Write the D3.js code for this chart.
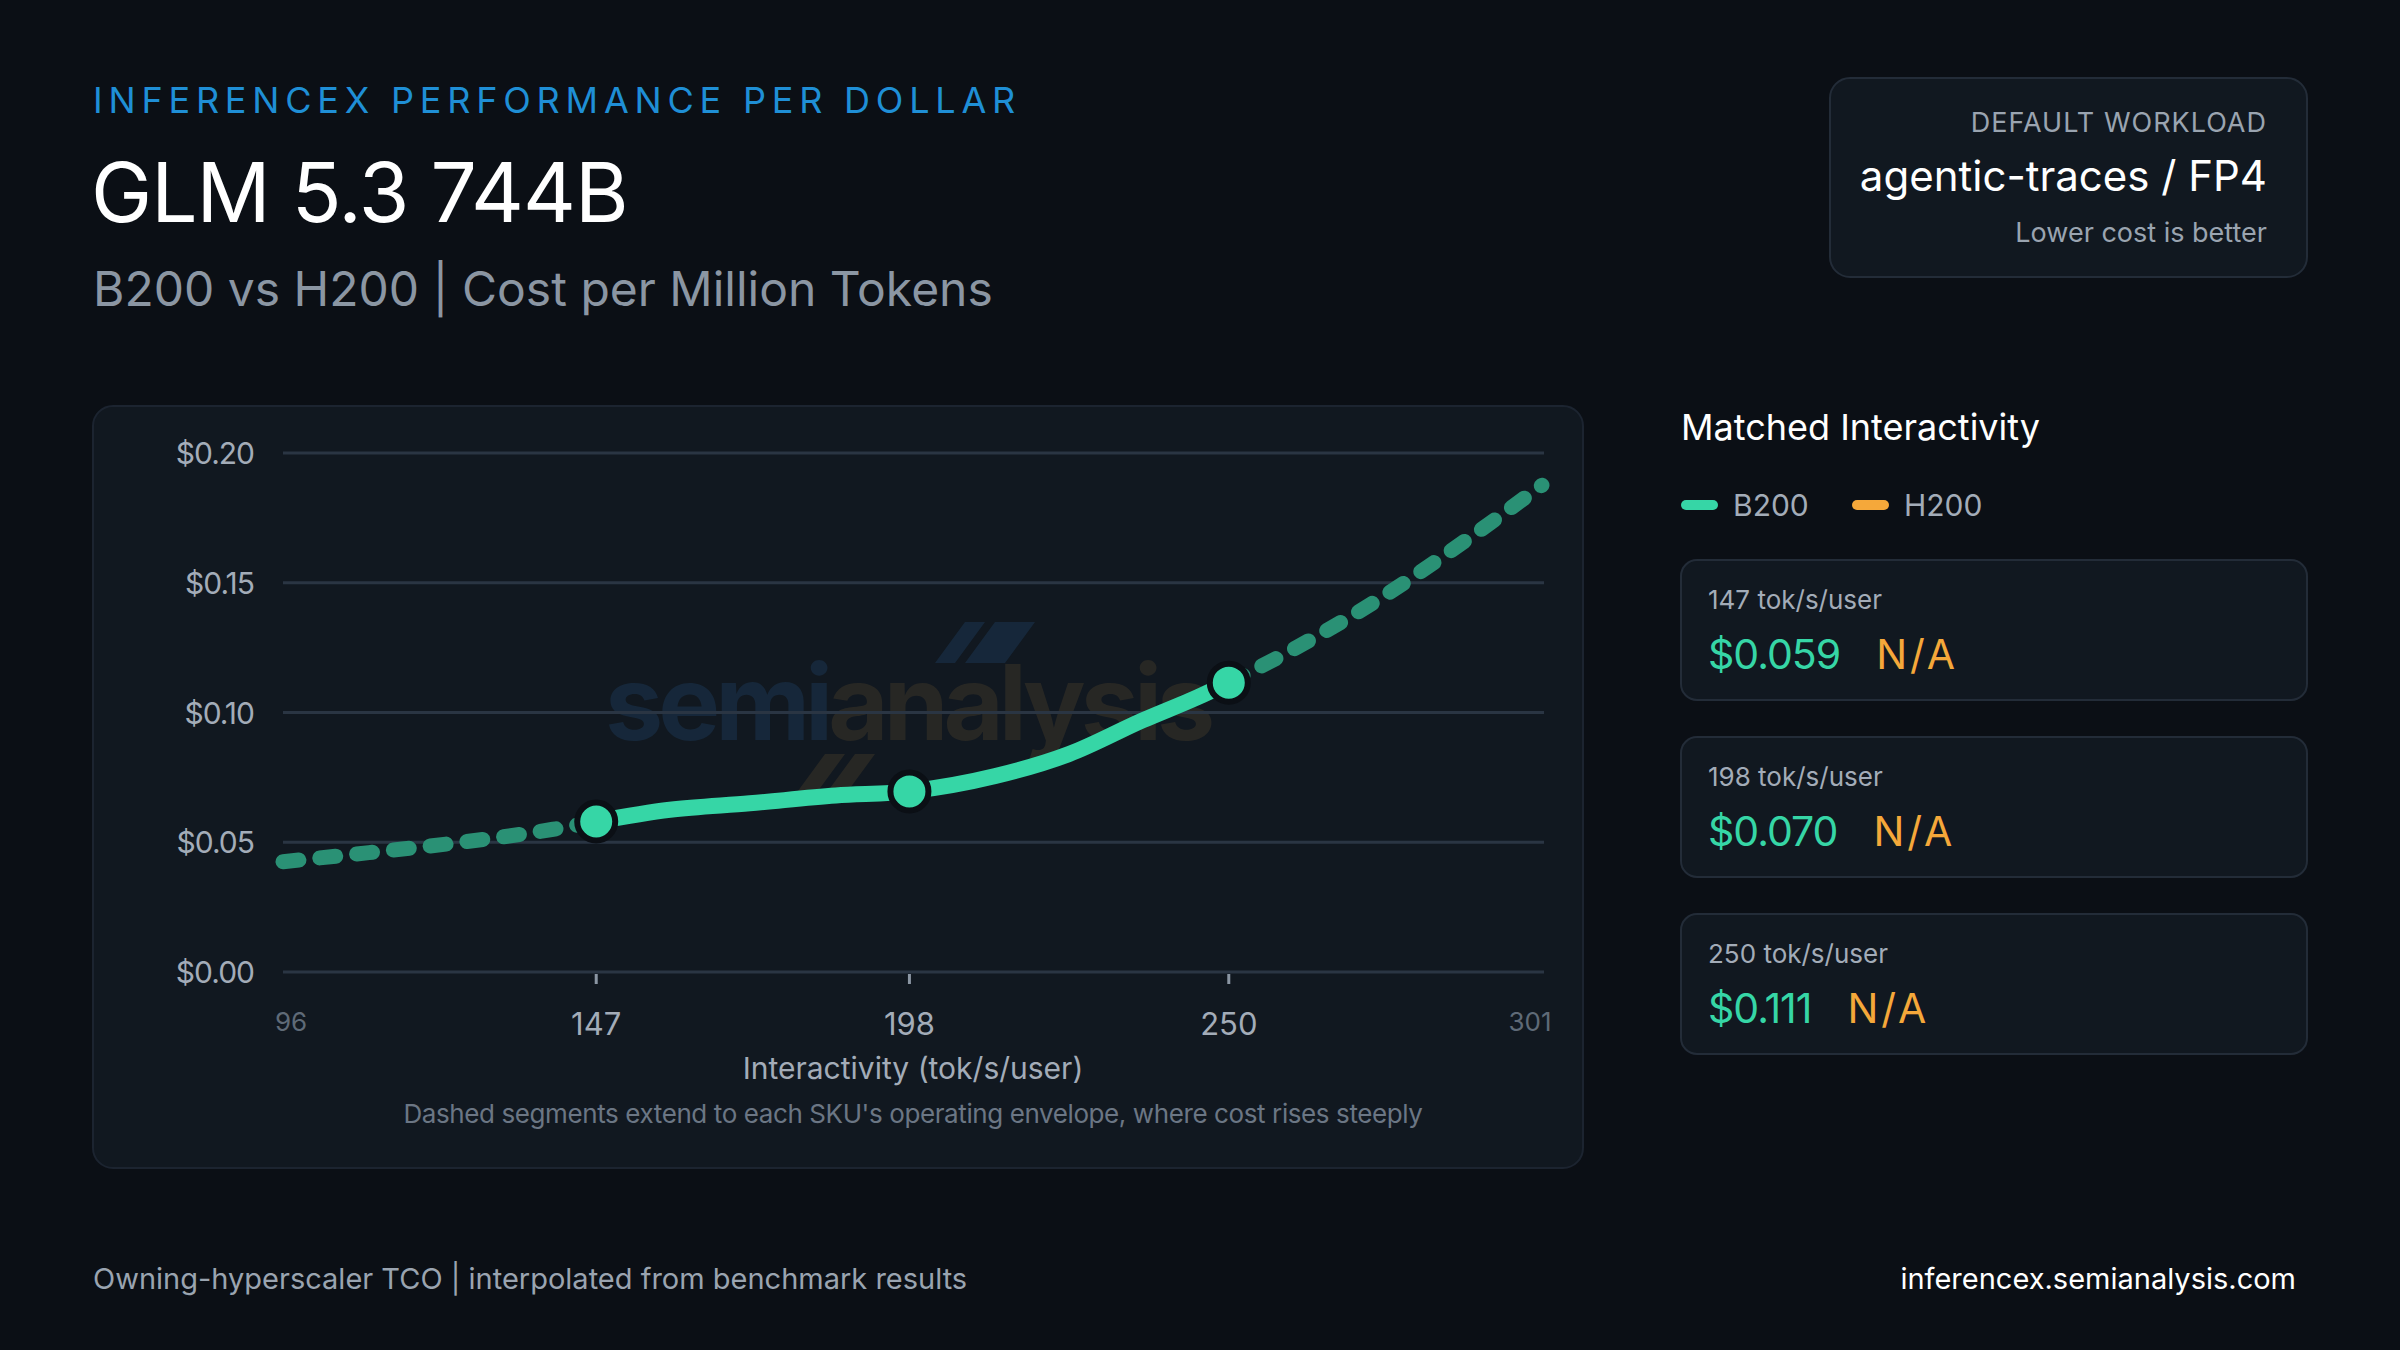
<!DOCTYPE html>
<html lang="en">
<head>
<meta charset="UTF-8">
<title>InferenceX</title>
<script src="https://d3js.org/d3.v7.min.js"></script>
<style>
  html, body { margin: 0; padding: 0; background: #0b0f15; }
  svg { display: block; font-family: Inter, "Noto Sans", sans-serif; }
</style>
</head>
<body>
<svg id="chart" width="2400" height="1350"></svg>
<script>
// data
const b200X = [96, 110, 125, 140, 147, 159, 172, 186, 198, 212, 224, 236, 245, 250, 261, 274, 289, 301];
const b200Cost = [0.0425, 0.046, 0.050, 0.055, 0.058, 0.0625, 0.065, 0.068, 0.0696, 0.0755, 0.084, 0.097, 0.106, 0.1115, 0.125, 0.143, 0.167, 0.1876];
const matchedX = [147, 198, 250];
const matchedB200 = ["$0.059", "$0.070", "$0.111"];
const matchedH200 = ["N/A", "N/A", "N/A"];
const yTicks = [0, 0.05, 0.10, 0.15, 0.20];
const xTickEdge = [96, 301];

const svg = d3.select("#chart");

// header
svg.append("text").attr("x", 93).attr("y", 113).attr("fill", "#1f8fd6")
  .attr("font-size", 36).attr("letter-spacing", 5.8).text("INFERENCEX PERFORMANCE PER DOLLAR");
svg.append("text").attr("x", 91).attr("y", 222).attr("fill", "#ffffff")
  .attr("font-size", 82).attr("font-weight", 400).attr("letter-spacing", -1).text("GLM 5.3 744B");
svg.append("text").attr("x", 93).attr("y", 306).attr("fill", "#8b96a3")
  .attr("font-size", 48).text("B200 vs H200 | Cost per Million Tokens");

// workload box
svg.append("rect").attr("x", 1830).attr("y", 78).attr("width", 477).attr("height", 199).attr("rx", 20)
  .attr("fill", "#111820").attr("stroke", "#232c38").attr("stroke-width", 2);
svg.append("text").attr("x", 2267).attr("y", 132).attr("text-anchor", "end").attr("fill", "#9aa4b0")
  .attr("font-size", 27).attr("letter-spacing", 1).text("DEFAULT  WORKLOAD");
svg.append("text").attr("x", 2267).attr("y", 191).attr("text-anchor", "end").attr("fill", "#ffffff")
  .attr("font-size", 42).text("agentic-traces  /  FP4");
svg.append("text").attr("x", 2267).attr("y", 242).attr("text-anchor", "end").attr("fill", "#9aa4b0")
  .attr("font-size", 27).text("Lower  cost is better");

// chart panel
svg.append("rect").attr("x", 93).attr("y", 406).attr("width", 1490).attr("height", 762).attr("rx", 20)
  .attr("fill", "#111820").attr("stroke", "#1c2430").attr("stroke-width", 2);

const x = d3.scaleLinear().domain([96, 301]).range([283, 1542]);
const y = d3.scaleLinear().domain([0, 0.20]).range([972, 453]);

// watermark
const wm = svg.append("g").attr("opacity", 0.55);
wm.append("text").attr("x", 605).attr("y", 740).attr("font-size", 104).attr("font-weight", 700)
  .attr("letter-spacing", -5)
  .selectAll("tspan").data([["semi", "#1b3550"], ["analysis", "#3a3428"]]).join("tspan")
  .attr("fill", d => d[1]).text(d => d[0]);
wm.append("path").attr("d", "M935,663 L965,622 L985,622 L955,663 Z M965,663 L995,622 L1035,622 L1005,663 Z").attr("fill", "#1b3550");
wm.append("path").attr("d", "M795,795 L825,754 L845,754 L815,795 Z M825,795 L855,754 L875,754 L845,795 Z").attr("fill", "#3a3428");

// grid
svg.append("g").selectAll("line").data(yTicks).join("line")
  .attr("x1", 283).attr("x2", 1544).attr("y1", d => y(d)).attr("y2", d => y(d))
  .attr("stroke", "#2a3543").attr("stroke-width", 3);
svg.append("g").selectAll("text").data(yTicks).join("text")
  .attr("x", 254).attr("y", d => y(d) + 11).attr("text-anchor", "end")
  .attr("fill", "#a3acb8").attr("font-size", 30).attr("letter-spacing", -1).text(d => "$" + d.toFixed(2));

// x ticks
svg.append("g").selectAll("line").data(matchedX).join("line")
  .attr("x1", d => x(d)).attr("x2", d => x(d)).attr("y1", 974).attr("y2", 984)
  .attr("stroke", "#8b96a3").attr("stroke-width", 3);
svg.append("g").selectAll("text").data(matchedX).join("text")
  .attr("x", d => x(d)).attr("y", 1035).attr("text-anchor", "middle")
  .attr("fill", "#a3acb8").attr("font-size", 31).text(d => d);
svg.append("g").selectAll("text").data(xTickEdge).join("text")
  .attr("x", (d, i) => i ? x(d) - 12 : x(d) + 8).attr("y", 1031).attr("text-anchor", "middle")
  .attr("fill", "#5f6a77").attr("font-size", 26).text(d => d);
svg.append("text").attr("x", 913).attr("y", 1079).attr("text-anchor", "middle")
  .attr("fill", "#a3acb8").attr("font-size", 30).text("Interactivity  (tok/s/user)");
svg.append("text").attr("x", 913).attr("y", 1123).attr("text-anchor", "middle")
  .attr("fill", "#6b7684").attr("font-size", 26).attr("letter-spacing", -0.4)
  .text("Dashed segments extend  to each SKU's operating  envelope, where cost rises steeply");

// curve
const pts = b200X.map((v, i) => [v, b200Cost[i]]);
const line = d3.line().x(d => x(d[0])).y(d => y(d[1])).curve(d3.curveMonotoneX);
const lo = pts.filter(d => d[0] <= 147), mid = pts.filter(d => d[0] >= 147 && d[0] <= 250), hi = pts.filter(d => d[0] >= 250);
[lo, hi].forEach(seg => svg.append("path").attr("d", line(seg)).attr("fill", "none")
  .attr("stroke", "#2a9175").attr("stroke-width", 15).attr("stroke-linecap", "round")
  .attr("stroke-dasharray", "16 21"));
svg.append("path").attr("d", line(mid)).attr("fill", "none")
  .attr("stroke", "#36d6a6").attr("stroke-width", 16).attr("stroke-linecap", "round");
svg.append("g").selectAll("circle").data(matchedX).join("circle")
  .attr("cx", d => x(d)).attr("cy", d => y(b200Cost[b200X.indexOf(d)]))
  .attr("r", 19).attr("fill", "#36d6a6").attr("stroke", "#0b0f15").attr("stroke-width", 6);

// right panel
svg.append("text").attr("x", 1681).attr("y", 440).attr("fill", "#ffffff")
  .attr("font-size", 36).text("Matched Interactivity");
const leg = [["B200", "#36d6a6", 1681], ["H200", "#f5a83a", 1852]];
leg.forEach(l => {
  svg.append("line").attr("x1", l[2] + 5).attr("x2", l[2] + 32).attr("y1", 505).attr("y2", 505)
    .attr("stroke", l[1]).attr("stroke-width", 10).attr("stroke-linecap", "round");
  svg.append("text").attr("x", l[2] + 52).attr("y", 516).attr("fill", "#a3acb8")
    .attr("font-size", 30).text(l[0]);
});
const cardY = [560, 737, 914];
matchedX.forEach((v, i) => {
  const g = svg.append("g").attr("transform", `translate(1681,${cardY[i]})`);
  g.append("rect").attr("width", 626).attr("height", 140).attr("rx", 16)
    .attr("fill", "#111820").attr("stroke", "#232c38").attr("stroke-width", 2);
  g.append("text").attr("x", 27).attr("y", 49).attr("fill", "#a3acb8").attr("font-size", 26)
    .text(v + " tok/s/user");
  const t = g.append("text").attr("x", 27).attr("y", 109).attr("font-size", 41);
  t.append("tspan").attr("fill", "#36d6a6").attr("letter-spacing", -1).text(matchedB200[i]);
  t.append("tspan").attr("fill", "#f5a83a").attr("dx", 36).attr("letter-spacing", 3).text(matchedH200[i]);
});

// footer
svg.append("text").attr("x", 93).attr("y", 1289).attr("fill", "#9aa4b0").attr("font-size", 29)
  .text("Owning-hyperscaler  TCO | interpolated  from  benchmark  results");
svg.append("text").attr("x", 2296).attr("y", 1289).attr("text-anchor", "end").attr("fill", "#ffffff")
  .attr("font-size", 29).text("inferencex.semianalysis.com");
</script>
</body>
</html>
